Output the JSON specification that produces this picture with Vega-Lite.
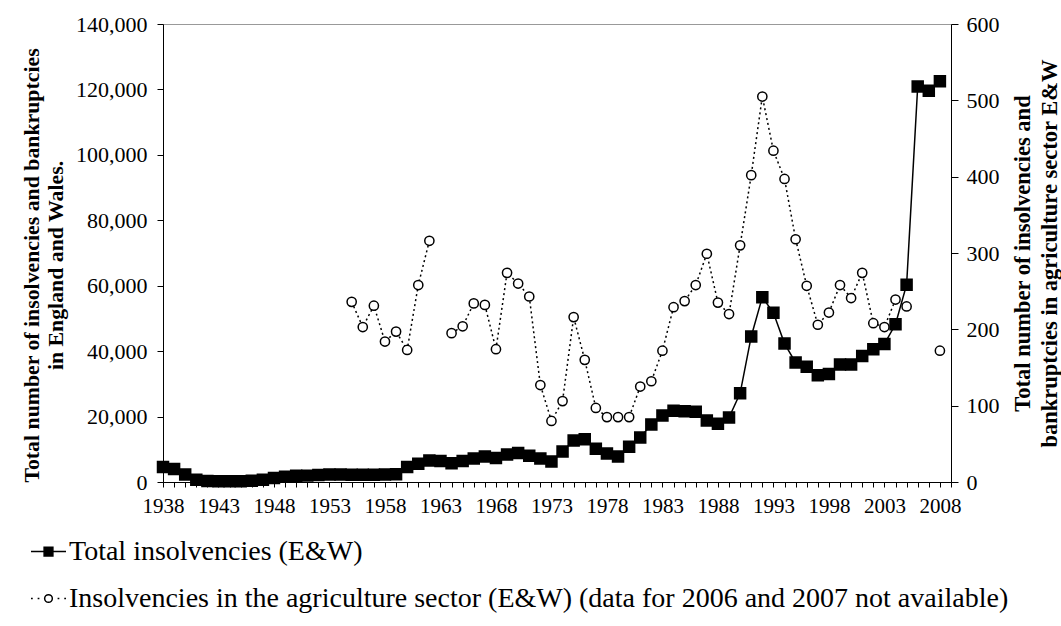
{
  "$schema": "https://vega.github.io/schema/vega-lite/v6.json",
  "autosize": "none",
  "width": 788,
  "height": 458,
  "padding": {"left": 163, "top": 24, "right": 110, "bottom": 144},
  "background": "white",
  "config": {
    "font": "Liberation Serif",
    "view": {"stroke": "#999999", "strokeWidth": 1},
    "axis": {"grid": false, "domainColor": "black", "tickColor": "black", "labelColor": "black", "titleColor": "black", "labelFont": "Liberation Serif", "titleFont": "Liberation Serif"},
    "legend": {
      "orient": "none", "legendX": -133, "legendY": 509, "title": null, "direction": "vertical",
      "labelFont": "Liberation Serif", "labelFontSize": 28, "labelColor": "black", "labelLimit": 0,
      "labelOffset": 2, "rowPadding": 14, "symbolSize": 1225, "symbolStrokeWidth": 1.5, "symbolOpacity": 1
    }
  },
  "data": {
    "values": [
      {"year": 1938, "series": "total", "value": 4600},
      {"year": 1939, "series": "total", "value": 4000},
      {"year": 1940, "series": "total", "value": 2300},
      {"year": 1941, "series": "total", "value": 700},
      {"year": 1942, "series": "total", "value": 300},
      {"year": 1943, "series": "total", "value": 200},
      {"year": 1944, "series": "total", "value": 200},
      {"year": 1945, "series": "total", "value": 250},
      {"year": 1946, "series": "total", "value": 350},
      {"year": 1947, "series": "total", "value": 700},
      {"year": 1948, "series": "total", "value": 1200},
      {"year": 1949, "series": "total", "value": 1600},
      {"year": 1950, "series": "total", "value": 1900},
      {"year": 1951, "series": "total", "value": 1950},
      {"year": 1952, "series": "total", "value": 2150},
      {"year": 1953, "series": "total", "value": 2300},
      {"year": 1954, "series": "total", "value": 2300},
      {"year": 1955, "series": "total", "value": 2200},
      {"year": 1956, "series": "total", "value": 2200},
      {"year": 1957, "series": "total", "value": 2200},
      {"year": 1958, "series": "total", "value": 2300},
      {"year": 1959, "series": "total", "value": 2350},
      {"year": 1960, "series": "total", "value": 4600},
      {"year": 1961, "series": "total", "value": 5600},
      {"year": 1962, "series": "total", "value": 6600},
      {"year": 1963, "series": "total", "value": 6400},
      {"year": 1964, "series": "total", "value": 5700},
      {"year": 1965, "series": "total", "value": 6400},
      {"year": 1966, "series": "total", "value": 7200},
      {"year": 1967, "series": "total", "value": 7800},
      {"year": 1968, "series": "total", "value": 7300},
      {"year": 1969, "series": "total", "value": 8400},
      {"year": 1970, "series": "total", "value": 8900},
      {"year": 1971, "series": "total", "value": 8000},
      {"year": 1972, "series": "total", "value": 7200},
      {"year": 1973, "series": "total", "value": 6300},
      {"year": 1974, "series": "total", "value": 9300},
      {"year": 1975, "series": "total", "value": 12700},
      {"year": 1976, "series": "total", "value": 13100},
      {"year": 1977, "series": "total", "value": 10200},
      {"year": 1978, "series": "total", "value": 8700},
      {"year": 1979, "series": "total", "value": 7800},
      {"year": 1980, "series": "total", "value": 10800},
      {"year": 1981, "series": "total", "value": 13600},
      {"year": 1982, "series": "total", "value": 17600},
      {"year": 1983, "series": "total", "value": 20300},
      {"year": 1984, "series": "total", "value": 21800},
      {"year": 1985, "series": "total", "value": 21600},
      {"year": 1986, "series": "total", "value": 21500},
      {"year": 1987, "series": "total", "value": 18800},
      {"year": 1988, "series": "total", "value": 17800},
      {"year": 1989, "series": "total", "value": 19700},
      {"year": 1990, "series": "total", "value": 27100},
      {"year": 1991, "series": "total", "value": 44500},
      {"year": 1992, "series": "total", "value": 56500},
      {"year": 1993, "series": "total", "value": 51700},
      {"year": 1994, "series": "total", "value": 42300},
      {"year": 1995, "series": "total", "value": 36500},
      {"year": 1996, "series": "total", "value": 35200},
      {"year": 1997, "series": "total", "value": 32600},
      {"year": 1998, "series": "total", "value": 33000},
      {"year": 1999, "series": "total", "value": 35900},
      {"year": 2000, "series": "total", "value": 35900},
      {"year": 2001, "series": "total", "value": 38500},
      {"year": 2002, "series": "total", "value": 40600},
      {"year": 2003, "series": "total", "value": 42200},
      {"year": 2004, "series": "total", "value": 48200},
      {"year": 2005, "series": "total", "value": 60300},
      {"year": 2006, "series": "total", "value": 120900},
      {"year": 2007, "series": "total", "value": 119600},
      {"year": 2008, "series": "total", "value": 122500},
      {"year": 1955, "series": "agri", "value": 236},
      {"year": 1956, "series": "agri", "value": 203},
      {"year": 1957, "series": "agri", "value": 231},
      {"year": 1958, "series": "agri", "value": 184},
      {"year": 1959, "series": "agri", "value": 197},
      {"year": 1960, "series": "agri", "value": 173},
      {"year": 1961, "series": "agri", "value": 258},
      {"year": 1962, "series": "agri", "value": 316},
      {"year": 1963, "series": "agri", "value": null},
      {"year": 1964, "series": "agri", "value": 195},
      {"year": 1965, "series": "agri", "value": 204},
      {"year": 1966, "series": "agri", "value": 234},
      {"year": 1967, "series": "agri", "value": 232},
      {"year": 1968, "series": "agri", "value": 174},
      {"year": 1969, "series": "agri", "value": 274},
      {"year": 1970, "series": "agri", "value": 260},
      {"year": 1971, "series": "agri", "value": 243},
      {"year": 1972, "series": "agri", "value": 127},
      {"year": 1973, "series": "agri", "value": 80},
      {"year": 1974, "series": "agri", "value": 106},
      {"year": 1975, "series": "agri", "value": 216},
      {"year": 1976, "series": "agri", "value": 160},
      {"year": 1977, "series": "agri", "value": 97},
      {"year": 1978, "series": "agri", "value": 85},
      {"year": 1979, "series": "agri", "value": 85},
      {"year": 1980, "series": "agri", "value": 85},
      {"year": 1981, "series": "agri", "value": 125},
      {"year": 1982, "series": "agri", "value": 132},
      {"year": 1983, "series": "agri", "value": 172},
      {"year": 1984, "series": "agri", "value": 229},
      {"year": 1985, "series": "agri", "value": 237},
      {"year": 1986, "series": "agri", "value": 258},
      {"year": 1987, "series": "agri", "value": 299},
      {"year": 1988, "series": "agri", "value": 235},
      {"year": 1989, "series": "agri", "value": 220},
      {"year": 1990, "series": "agri", "value": 310},
      {"year": 1991, "series": "agri", "value": 402},
      {"year": 1992, "series": "agri", "value": 505},
      {"year": 1993, "series": "agri", "value": 434},
      {"year": 1994, "series": "agri", "value": 397},
      {"year": 1995, "series": "agri", "value": 318},
      {"year": 1996, "series": "agri", "value": 257},
      {"year": 1997, "series": "agri", "value": 206},
      {"year": 1998, "series": "agri", "value": 222},
      {"year": 1999, "series": "agri", "value": 258},
      {"year": 2000, "series": "agri", "value": 241},
      {"year": 2001, "series": "agri", "value": 274},
      {"year": 2002, "series": "agri", "value": 208},
      {"year": 2003, "series": "agri", "value": 203},
      {"year": 2004, "series": "agri", "value": 239},
      {"year": 2005, "series": "agri", "value": 230},
      {"year": 2006, "series": "agri", "value": null},
      {"year": 2007, "series": "agri", "value": null},
      {"year": 2008, "series": "agri", "value": 172}
    ]
  },
  "transform": [
    {"calculate": "datum.series === 'total' ? 'Total insolvencies (E&W)' : 'Insolvencies in the agriculture sector (E&W) (data for 2006 and 2007 not available)'", "as": "label"}
  ],
  "encoding": {
    "x": {
      "field": "year", "type": "quantitative",
      "scale": {"domain": [1938, 2009], "nice": false, "zero": false},
      "axis": {
        "title": null,
        "values": [1938,1939,1940,1941,1942,1943,1944,1945,1946,1947,1948,1949,1950,1951,1952,1953,1954,1955,1956,1957,1958,1959,1960,1961,1962,1963,1964,1965,1966,1967,1968,1969,1970,1971,1972,1973,1974,1975,1976,1977,1978,1979,1980,1981,1982,1983,1984,1985,1986,1987,1988,1989,1990,1991,1992,1993,1994,1995,1996,1997,1998,1999,2000,2001,2002,2003,2004,2005,2006,2007,2008,2009],
        "labelExpr": "(datum.value - 1938) % 5 === 0 ? datum.value : ''",
        "format": "d",
        "labelFontSize": 21,
        "tickSize": 5,
        "labelPadding": 8,
        "labelFlush": false,
        "labelOverlap": false
      }
    }
  },
  "layer": [
    {
      "transform": [{"filter": "datum.series === 'total'"}],
      "encoding": {
        "y": {
          "field": "value", "type": "quantitative",
          "scale": {"domain": [0, 140000], "nice": false},
          "axis": {
            "orient": "left",
            "values": [0, 20000, 40000, 60000, 80000, 100000, 120000, 140000],
            "format": ",d",
            "labelFontSize": 22,
            "tickSize": 6,
            "labelPadding": 10,
            "title": ["Total number of insolvencies and bankruptcies", "in England and Wales."],
            "titleFontSize": 21.8,
            "titleFontWeight": "bold",
            "titleLineHeight": 24,
            "titlePadding": 8,
            "titleY": 241
          }
        }
      },
      "layer": [
        {"mark": {"type": "line", "color": "black", "strokeWidth": 1.5}},
        {"mark": {"type": "point", "shape": "square", "filled": true, "fill": "black", "stroke": "black", "size": 110, "opacity": 1}},
        {
          "transform": [{"filter": "false"}],
          "mark": {"type": "point", "filled": true, "strokeWidth": 1.5, "opacity": 1},
          "encoding": {
            "shape": {
              "field": "label", "type": "nominal",
              "scale": {"domain": ["Total insolvencies (E&W)", "Insolvencies in the agriculture sector (E&W) (data for 2006 and 2007 not available)"], "range": ["M-1,0H1M-0.25,-0.25H0.25V0.25H-0.25Z", "M-1,0H-0.9M-0.62,0H-0.52M0.52,0H0.62M0.9,0H1M0.22,0A0.22,0.22 0 1,1 -0.22,0A0.22,0.22 0 1,1 0.22,0Z"]},
              "legend": {"title": null}
            },
            "fill": {
              "field": "label", "type": "nominal",
              "scale": {"domain": ["Total insolvencies (E&W)", "Insolvencies in the agriculture sector (E&W) (data for 2006 and 2007 not available)"], "range": ["black", "white"]},
              "legend": {"title": null}
            },
            "stroke": {
              "field": "label", "type": "nominal",
              "scale": {"domain": ["Total insolvencies (E&W)", "Insolvencies in the agriculture sector (E&W) (data for 2006 and 2007 not available)"], "range": ["black", "black"]},
              "legend": {"title": null}
            }
          }
        }
      ]
    },
    {
      "transform": [{"filter": "datum.series === 'agri'"}],
      "encoding": {
        "y": {
          "field": "value", "type": "quantitative",
          "scale": {"domain": [0, 600], "nice": false},
          "axis": {
            "orient": "right",
            "values": [0, 100, 200, 300, 400, 500, 600],
            "format": "d",
            "labelFontSize": 22,
            "tickSize": 7,
            "labelPadding": 8,
            "title": ["Total number of insolvencies and", "bankruptcies in agriculture sector E&W"],
            "titleAngle": 270,
            "titleFontSize": 22.5,
            "titleFontWeight": "bold",
            "titleLineHeight": 27,
            "titlePadding": 8
          }
        }
      },
      "layer": [
        {"mark": {"type": "line", "color": "black", "strokeWidth": 1.5, "strokeDash": [2, 3]}},
        {"mark": {"type": "point", "shape": "circle", "filled": false, "fill": "white", "stroke": "black", "strokeWidth": 1.5, "size": 85, "opacity": 1, "fillOpacity": 1}}
      ]
    }
  ],
  "resolve": {"scale": {"y": "independent"}}
}
